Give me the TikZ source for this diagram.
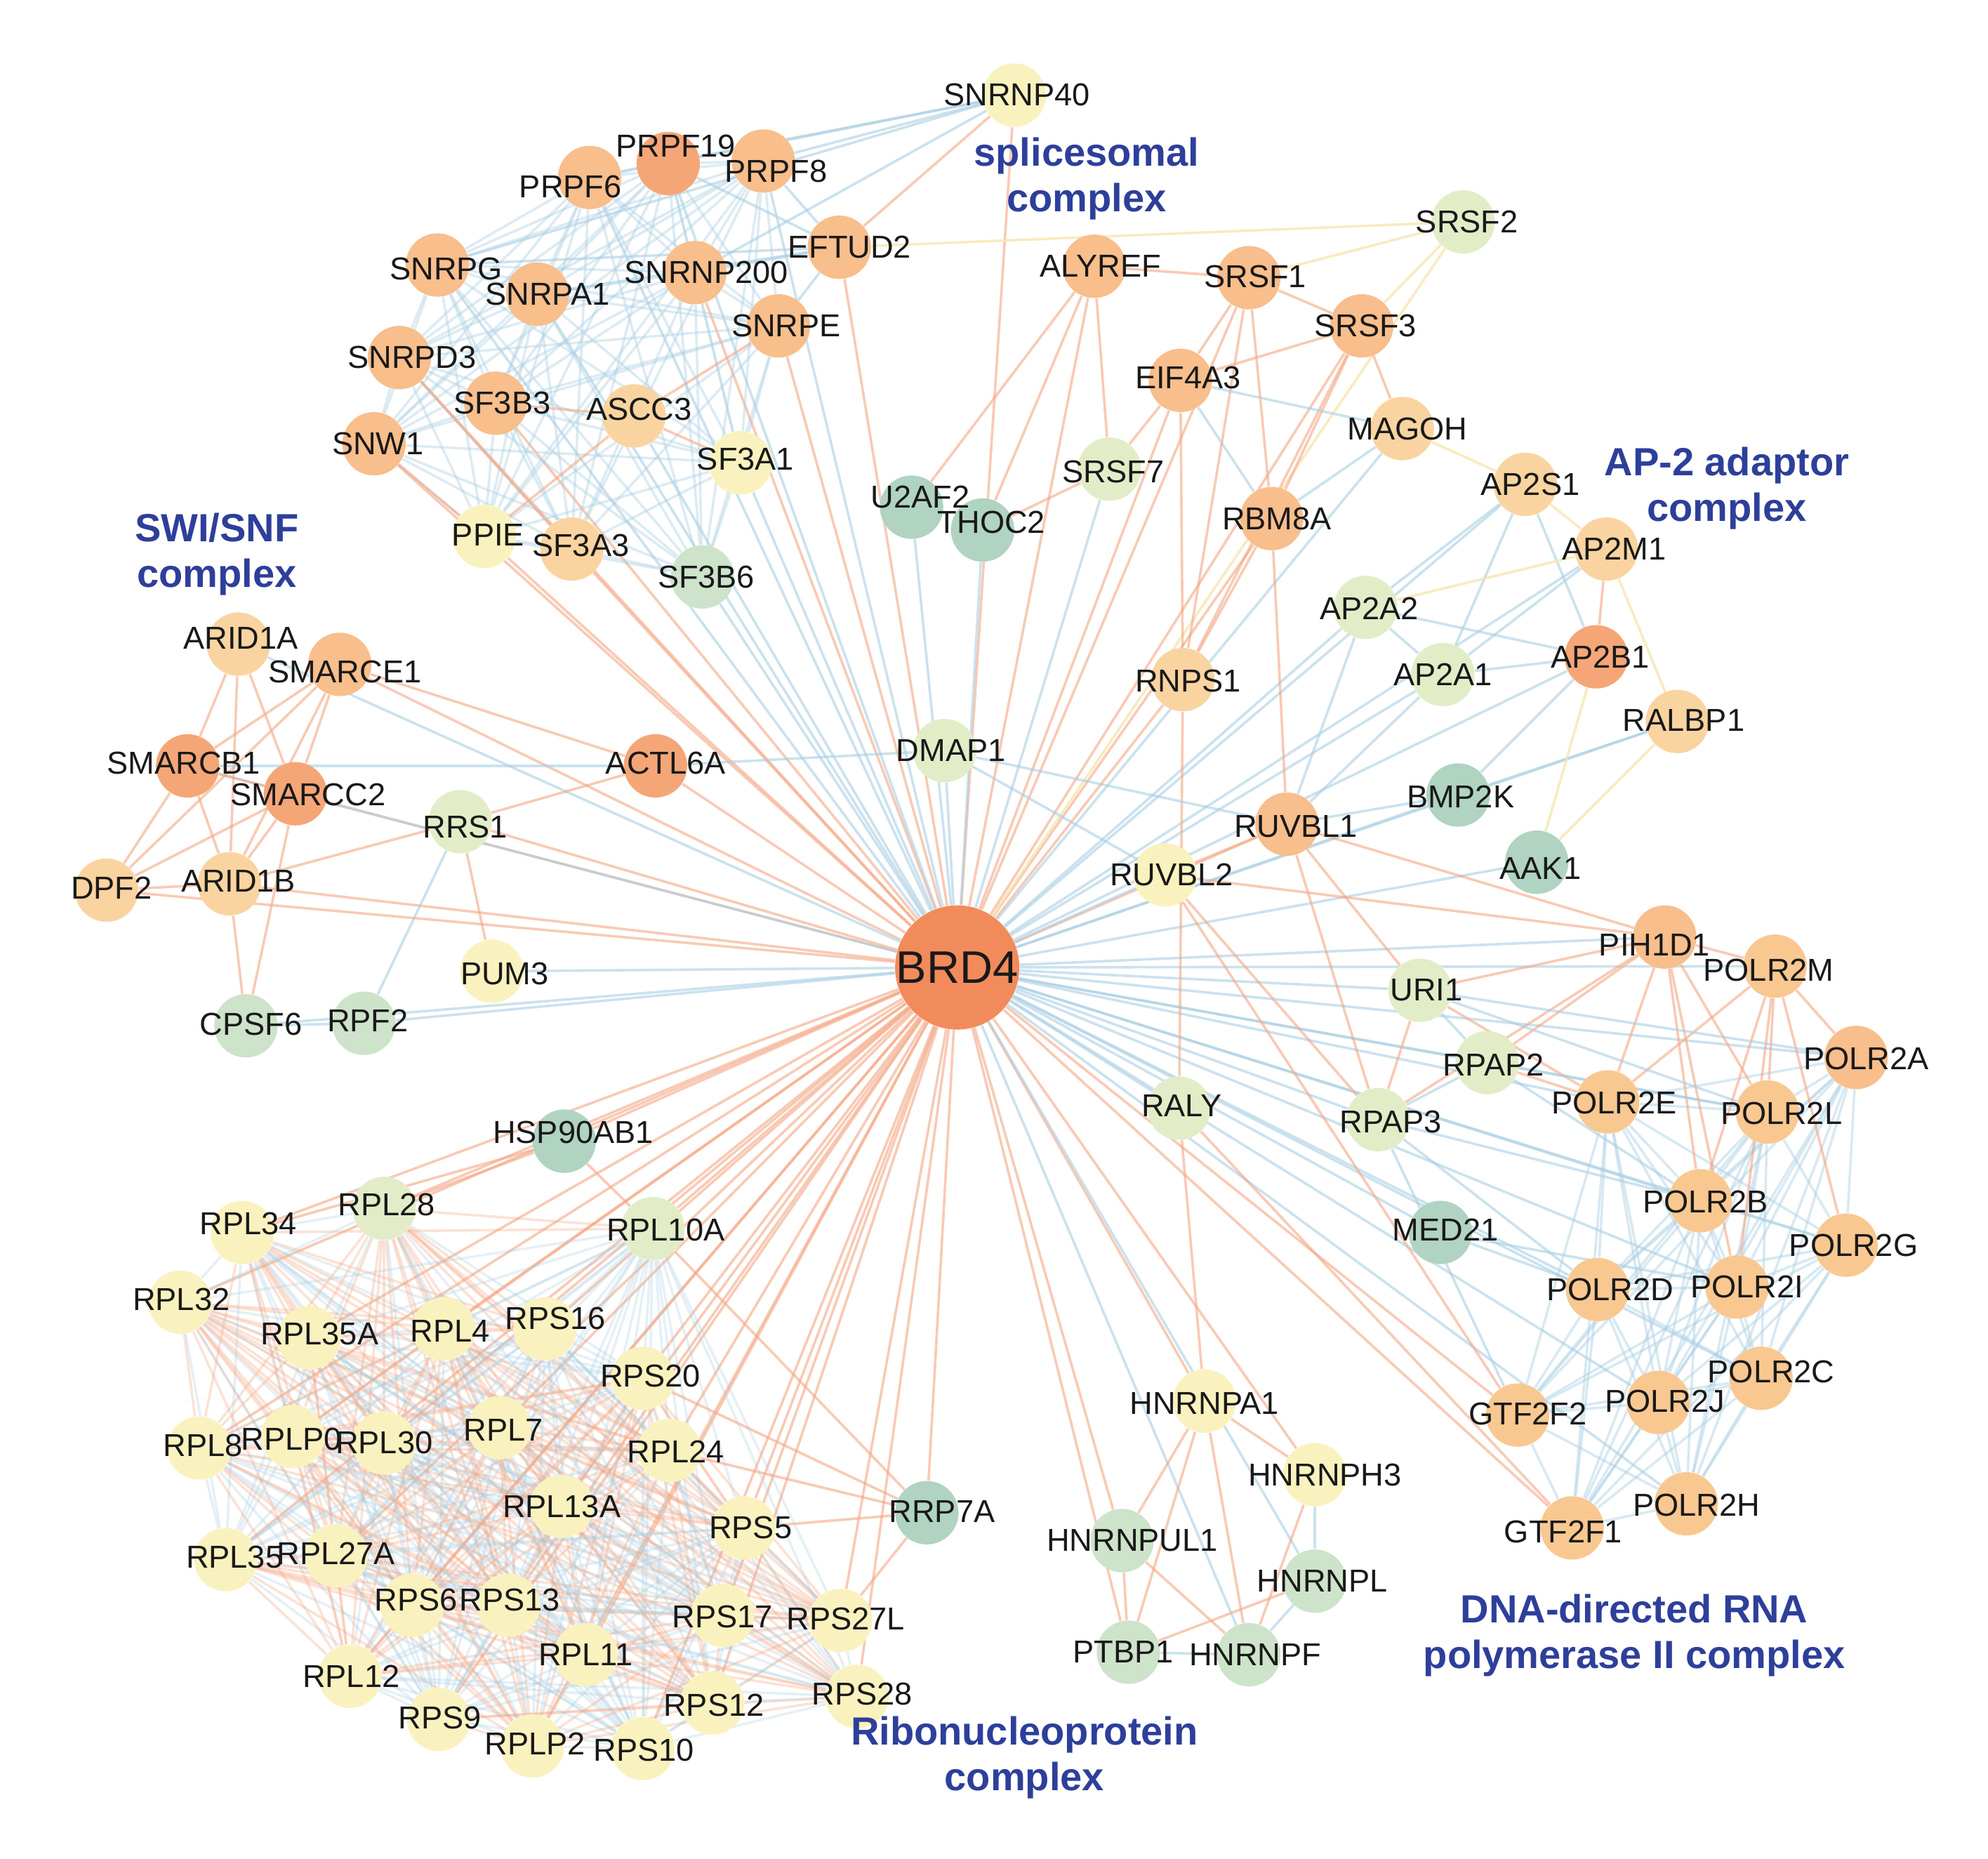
\documentclass[tikz,border=0pt]{standalone}
\usepackage{fontspec}
\setmainfont{Liberation Sans}
\usetikzlibrary{backgrounds}

\definecolor{cA}{HTML}{F28B5B}
\definecolor{cB}{HTML}{F5A677}
\definecolor{cC}{HTML}{F8BE8C}
\definecolor{cP}{HTML}{F9C891}
\definecolor{cD}{HTML}{FAD4A0}
\definecolor{cE}{HTML}{FAF2BE}
\definecolor{cF}{HTML}{E2EDC8}
\definecolor{cF2}{HTML}{CDE3CA}
\definecolor{cG}{HTML}{B0D3C2}
\definecolor{edgeO}{HTML}{F4A784}
\definecolor{edgeB}{HTML}{A9CEE2}
\definecolor{edgeY}{HTML}{F6E6B0}
\definecolor{grpblue}{HTML}{2E3F9A}

% nodes: name/x/y/colour/label dx/label dy (pixel grid of the figure)
\def\genes{SNRNP40/800/75/cE/2/0,
 PRPF19/527/129/cB/6/-14, PRPF8/602/127/cC/10/8, PRPF6/465/140/cC/-15/7,
 EFTUD2/662/195/cC/8/0, SNRPG/345/209/cC/7/3, SNRPA1/424/232/cC/8/0,
 SNRNP200/548/215/cC/9/0, SNRPE/614/257/cC/6/0, SNRPD3/315/282/cC/10/0,
 SF3B3/391/318/cC/5/0, ASCC3/500/328/cD/4/-5, SNW1/295/350/cC/3/0,
 SF3A1/584/365/cE/4/-3, PPIE/382/423/cE/3/-1, SF3A3/451/433/cD/7/-3,
 SF3B6/554/455/cF2/3/0, U2AF2/719/400/cG/7/-8, THOC2/775/418/cG/7/-6,
 ALYREF/863/210/cC/5/0, SRSF1/985/219/cC/5/-1, SRSF2/1154/175/cF/3/0,
 SRSF3/1074/257/cC/3/0, EIF4A3/931/300/cC/6/-2, MAGOH/1106/338/cD/4/0,
 SRSF7/875/370/cF/3/2, RBM8A/1003/409/cC/4/0,
 AP2S1/1203/382/cD/4/0, AP2M1/1267/433/cD/6/0, AP2A2/1077/479/cF/3/1,
 AP2A1/1138/532/cF/0/0, AP2B1/1259/518/cB/3/0, RALBP1/1323/569/cD/5/-1,
 RNPS1/933/536/cD/4/1, DMAP1/745/592/cF/5/0, BMP2K/1150/627/cG/2/1,
 RUVBL1/1015/650/cC/7/2, RUVBL2/919/690/cE/5/0, AAK1/1212/680/cG/3/5,
 PIH1D1/1313/739/cC/-8/6, POLR2M/1400/762/cP/-5/3, URI1/1120/781/cF/5/0,
 POLR2A/1464/834/cC/8/1, RPAP2/1173/838/cF/5/2, POLR2E/1268/869/cP/5/1,
 POLR2L/1394/877/cP/11/1, RPAP3/1087/883/cF/10/2, RALY/930/874/cF/2/-2,
 POLR2B/1341/947/cP/4/1, MED21/1136/972/cG/4/-2, POLR2G/1456/982/cP/6/0,
 POLR2D/1260/1017/cP/10/0, POLR2I/1370/1015/cP/8/0, POLR2C/1389/1087/cP/8/-5,
 POLR2J/1308/1106/cP/5/-1, GTF2F2/1197/1116/cP/8/-1, POLR2H/1330/1186/cP/8/1,
 GTF2F1/1240/1205/cP/-7/3,
 HNRNPA1/950/1105/cE/0/2, HNRNPH3/1037/1163/cE/8/0, HNRNPUL1/885/1215/cF2/8/0,
 HNRNPL/1037/1247/cF2/6/0, PTBP1/890/1303/cF2/-4/0, HNRNPF/985/1305/cF2/5/0,
 RRP7A/731/1193/cG/12/-1,
 ARID1A/188/508/cD/2/-5, SMARCE1/268/524/cC/4/6, SMARCB1/148/604/cB/-3/-2,
 SMARCC2/233/626/cB/10/1, ACTL6A/517/604/cB/8/-2, RRS1/363/648/cF/4/4,
 DPF2/84/702/cD/4/-2, ARID1B/181/697/cD/7/-2, PUM3/388/766/cE/10/2,
 CPSF6/194/809/cF2/4/-1, RPF2/287/807/cF2/3/-2, HSP90AB1/445/900/cG/7/-7,
 RPL34/191/972/cE/5/-7, RPL28/303/953/cF/2/-3, RPL10A/515/969/cF/10/1,
 RPL32/142/1027/cE/1/-2, RPL35A/244/1055/cE/8/-3, RPL4/350/1048/cE/5/2,
 RPS16/430/1048/cE/8/-8, RPS20/507/1087/cE/6/-2,
 RPL8/157/1142/cE/3/-2, RPLP0/231/1133/cE/-1/2, RPL30/303/1138/cE/0/0,
 RPL7/394/1126/cE/3/2, RPL24/528/1144/cE/5/1, RPL13A/443/1188/cE/0/0,
 RPS5/587/1205/cE/5/0, RPL35/178/1230/cE/7/-2, RPL27A/265/1227/cE/0/-2,
 RPS6/325/1266/cE/3/-4, RPS13/401/1266/cE/1/-4, RPS17/570/1274/cE/0/1,
 RPS27L/663/1278/cE/4/-1, RPL11/462/1305/cE/0/0, RPL12/276/1322/cE/1/0,
 RPS9/346/1356/cE/1/-1, RPS12/562/1343/cE/1/2, RPS28/676/1338/cE/4/-2,
 RPLP2/420/1377/cE/2/-2, RPS10/507/1379/cE/1/1}

\def\ribo{RPL34,RPL28,RPL10A,RPL32,RPL35A,RPL4,RPS16,RPS20,RPL8,RPLP0,RPL30,RPL7,
 RPL24,RPL13A,RPS5,RPL35,RPL27A,RPS6,RPS13,RPS17,RPS27L,RPL11,RPL12,RPS9,RPS12,
 RPS28,RPLP2,RPS10}
\def\splice{PRPF6,PRPF19,PRPF8,SNRPG,SNRPA1,SNRNP200,SNRPE,SNRPD3,SF3B3,SNW1,
 SF3A1,SF3A3,SF3B6,PPIE}
\def\polr{POLR2A,POLR2B,POLR2C,POLR2D,POLR2E,POLR2G,POLR2H,POLR2I,POLR2J,POLR2L,
 GTF2F1,GTF2F2}

\begin{document}
\begin{tikzpicture}[x=0.5pt, y=-0.5pt,
    gene/.style={circle, minimum size=25pt, inner sep=0pt},
    lbl/.style={font=\fontsize{12.5}{14}\selectfont, text=black!90, inner sep=0pt},
    grp/.style={font=\fontsize{15.5}{18}\selectfont\bfseries, text=grpblue, align=center},
    eo/.style={draw=edgeO, line width=1pt, opacity=.6},
    eb/.style={draw=edgeB, line width=1pt, opacity=.6},
    ey/.style={draw=edgeY, line width=1pt, opacity=.8}]
  \useasboundingbox (0,0) rectangle (1568,1466);

  \node[gene, fill=cA, minimum size=49pt] (BRD4) at (755,763) {};
  \foreach \n/\x/\y/\c/\dx/\dy in \genes
    \node[gene, fill=\c] (\n) at (\x,\y) {};

  \begin{scope}[on background layer]
    % BRD4 interactions
    \foreach \n in {SNRNP40,SNRPE,SNRNP200,EFTUD2,SF3B3,SNRPD3,SNW1,PPIE,SF3A3,
        ALYREF,SRSF1,SRSF3,EIF4A3,RBM8A,RNPS1,RUVBL1,ACTL6A,SMARCE1,RRS1,DPF2,
        ARID1B,SMARCC2,HSP90AB1,RRP7A,HNRNPA1,HNRNPUL1,PTBP1,GTF2F1,GTF2F2,HNRNPH3}
      \draw[eo] (BRD4) -- (\n);
    \foreach \n in \ribo
      \draw[eo] (BRD4) -- (\n);
    \foreach \n in {PRPF6,PRPF8,PRPF19,SNRPG,SNRPA1,ASCC3,SF3A1,SF3B6,U2AF2,THOC2,
        DMAP1,SRSF7,MAGOH,AP2S1,AP2M1,AP2A2,AP2A1,AP2B1,RALBP1,BMP2K,AAK1,RUVBL2,
        URI1,PIH1D1,POLR2M,POLR2A,POLR2E,POLR2L,POLR2B,POLR2G,POLR2D,POLR2I,POLR2C,
        POLR2J,POLR2H,RPAP2,RPAP3,MED21,RALY,HNRNPL,HNRNPF,SMARCB1,ARID1A,CPSF6,
        RPF2,PUM3}
      \draw[eb] (BRD4) -- (\n);
    \draw[ey] (BRD4) -- (SRSF2);

    % complexes
    \foreach \u [count=\i] in \splice {
      \foreach \v [count=\j] in \splice {
        \ifnum\j>\i \draw[eb, opacity=.4] (\u) -- (\v); \fi
      }
    }
    \foreach \u [count=\i] in \polr {
      \foreach \v [count=\j] in \polr {
        \ifnum\j>\i \draw[eb, opacity=.45] (\u) -- (\v); \fi
      }
    }
    \foreach \u [count=\i] in \ribo {
      \foreach \v [count=\j] in \ribo {
        \ifnum\j>\i
          \pgfmathtruncatemacro\k{mod(\i*\j+\j,4)}
          \ifnum\k=0 \draw[eb, opacity=.3] (\u) -- (\v);
          \else \draw[eo, opacity=.33] (\u) -- (\v); \fi
        \fi
      }
    }

    \foreach \a/\b in {SNRNP40/EFTUD2, SNRPE/ASCC3, SF3B3/ASCC3, ASCC3/SF3A1,
        PPIE/ASCC3, SNRPD3/SF3A3, SNW1/PPIE,
        ALYREF/SRSF1, ALYREF/U2AF2, ALYREF/THOC2, ALYREF/SRSF7, SRSF7/THOC2,
        SRSF7/EIF4A3, EIF4A3/SRSF1, EIF4A3/SRSF3, SRSF1/SRSF3, SRSF1/RBM8A,
        SRSF3/MAGOH, SRSF3/RBM8A, RBM8A/RNPS1, RBM8A/RUVBL1, SRSF3/RNPS1,
        SRSF1/RNPS1, EIF4A3/RNPS1, RNPS1/RALY, RALY/HNRNPA1,
        ARID1A/SMARCB1, ARID1A/SMARCC2, ARID1A/ARID1B, SMARCE1/SMARCB1,
        SMARCE1/SMARCC2, SMARCE1/ARID1B, SMARCE1/ACTL6A, SMARCE1/DPF2,
        SMARCB1/SMARCC2, SMARCB1/DPF2, SMARCB1/ARID1B, SMARCC2/DPF2,
        SMARCC2/ARID1B, DPF2/ARID1B, ARID1B/CPSF6, SMARCC2/CPSF6, ACTL6A/RRS1,
        ARID1B/RRS1, RRS1/PUM3, AP2M1/AP2B1,
        RUVBL1/RUVBL2, RUVBL1/PIH1D1, RUVBL1/URI1, RUVBL1/RPAP3, RUVBL2/PIH1D1,
        RUVBL2/RPAP3, URI1/RPAP3, URI1/PIH1D1, PIH1D1/RPAP3, PIH1D1/POLR2E,
        PIH1D1/POLR2B, PIH1D1/POLR2L, PIH1D1/POLR2I, PIH1D1/POLR2M, POLR2M/POLR2E,
        POLR2M/POLR2L, POLR2M/POLR2B, POLR2M/POLR2A, POLR2M/POLR2I, POLR2M/POLR2G,
        RPAP2/POLR2E, URI1/POLR2E, RPAP2/PIH1D1, RALY/GTF2F1, RUVBL2/GTF2F2,
        HNRNPA1/HNRNPH3, HNRNPA1/HNRNPUL1, HNRNPA1/PTBP1, HNRNPA1/HNRNPF,
        HNRNPH3/HNRNPF, HNRNPUL1/PTBP1, HNRNPUL1/HNRNPF, PTBP1/HNRNPL,
        RRP7A/RPL24, RRP7A/RPS5, RRP7A/RPS27L, RRP7A/RPL10A, RRP7A/RPS20,
        HSP90AB1/RPL34, HSP90AB1/RPL28, HSP90AB1/RPL10A}
      \draw[eo] (\a) -- (\b);
    \foreach \a/\b in {SNRNP40/PRPF19, SNRNP40/PRPF8, SNRNP40/PRPF6,
        SNRNP40/SNRNP200, SNRNP40/SNRPG, EFTUD2/PRPF8, EFTUD2/PRPF19,
        EFTUD2/SNRNP200, EFTUD2/SNRPE, EFTUD2/SNRPA1, EFTUD2/SNRPG,
        EIF4A3/MAGOH, EIF4A3/RBM8A, MAGOH/RBM8A,
        AP2S1/AP2A2, AP2S1/AP2A1, AP2S1/AP2B1, AP2A2/AP2B1, AP2A1/AP2B1,
        AP2A2/AP2A1, AP2M1/AP2A1, RALBP1/BMP2K, AP2B1/BMP2K, AP2A2/RUVBL1,
        AP2A1/RUVBL1, BMP2K/RUVBL1, DMAP1/RUVBL1, DMAP1/RUVBL2, DMAP1/ACTL6A,
        SMARCB1/ACTL6A, RRS1/RPF2, CPSF6/RPF2,
        URI1/RPAP2, RPAP2/RPAP3, RPAP2/POLR2B, RPAP3/POLR2B, RPAP3/POLR2D,
        MED21/POLR2D, MED21/POLR2I, URI1/POLR2L, URI1/POLR2A, RPAP2/POLR2L,
        RPAP3/GTF2F2, HNRNPH3/HNRNPL, HNRNPL/HNRNPF, PTBP1/HNRNPF}
      \draw[eb] (\a) -- (\b);
    \foreach \a/\b in {EFTUD2/SRSF2, SRSF3/SRSF2, SRSF1/SRSF2, AP2M1/AP2A2,
        RALBP1/AAK1, AP2B1/AAK1, AP2M1/RALBP1, AP2S1/AP2M1, MAGOH/AP2S1}
      \draw[ey] (\a) -- (\b);
  \end{scope}

  % labels above all circles
  \foreach \n/\x/\y/\c/\dx/\dy in \genes
    \node[lbl] (t\n) at ([shift={(\dx,\dy)}]\n) {\n};
  \node[lbl, font=\fontsize{18}{20}\selectfont] (tBRD4) at (BRD4) {BRD4};

  \node[grp] (splicing) at (857,141) {splicesomal\\complex};
  \node[grp] (ap2) at (1362,385) {AP-2 adaptor\\complex};
  \node[grp] (swisnf) at (171,437) {SWI/SNF\\complex};
  \node[grp] (polii) at (1289,1290) {DNA-directed RNA\\polymerase II complex};
  \node[grp] (rnp) at (808,1386) {Ribonucleoprotein\\complex};
\end{tikzpicture}
\end{document}
